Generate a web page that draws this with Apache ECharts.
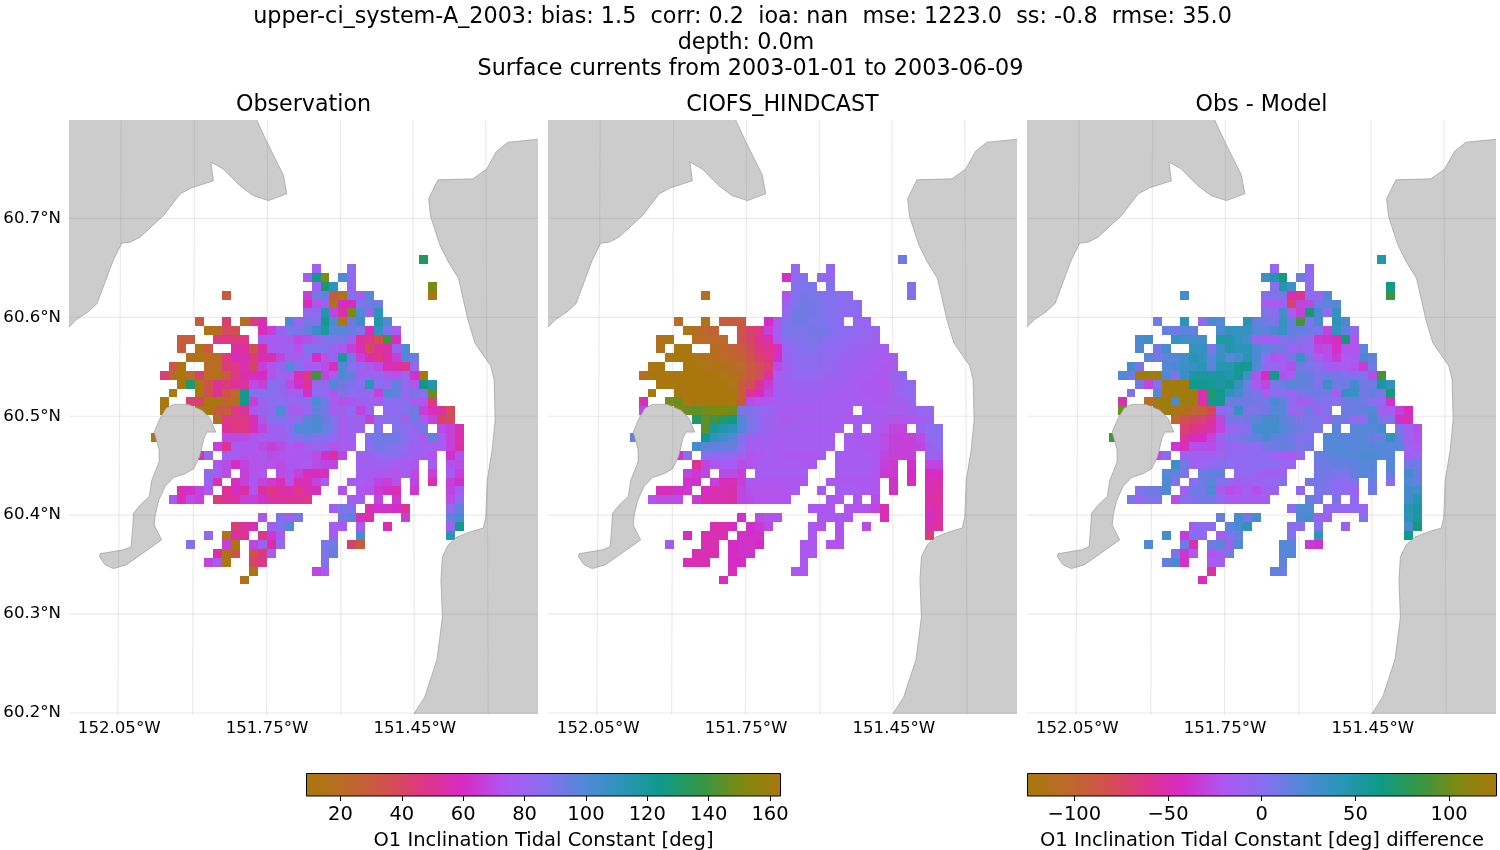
<!DOCTYPE html>
<html>
<head>
<meta charset="utf-8">
<title>O1 Inclination Tidal Constant</title>
<script src="https://cdn.jsdelivr.net/npm/echarts@6/dist/echarts.min.js"></script>
<style>
  html, body { margin: 0; padding: 0; background: #fff; }
  #chart { width: 1500px; height: 850px; }
</style>
</head>
<body>
<div id="chart"></div>
<script>
const _ = null;

// binned field: every row is [first column, values...], rows go north to south
const LON0 = -151.9863, DLON = 0.01815;
const LAT0 = 60.663, DLAT = 0.009;

const obsRows = [
  [30,132],
  [18,76,_,_,_,86],
  [17,76,123,150,_,100,85],
  [18,78,128,112,_,82,_,_,_,_,_,_,_,_,150],
  [8,30,_,_,_,_,_,_,_,_,66,92,95,30,15,88,78,98,_,_,_,_,_,_,10],
  [17,58,72,76,14,60,60,88,95,92],
  [17,82,85,115,68,55,150,100,80,112],
  [5,30,_,_,42,_,20,45,56,_,_,100,82,92,88,122,102,12,92,105,_,115,100],
  [6,14,20,38,36,_,_,58,66,80,90,90,94,108,118,98,98,94,88,58,108,90,76],
  [3,28,30,_,_,45,46,44,46,_,76,76,76,76,68,70,78,88,90,90,80,52,48,34,140,58],
  [3,30,_,12,32,_,_,54,52,34,54,76,76,80,72,90,88,88,80,74,66,58,38,52,54,80,100],
  [4,18,12,20,20,46,60,56,44,56,54,68,78,78,82,60,72,80,118,92,66,56,46,54,66,100,95],
  [2,32,10,_,_,20,20,45,46,56,40,66,72,80,98,88,76,76,70,58,100,86,82,74,70,58,56,48,82],
  [1,44,18,10,22,42,20,12,32,46,54,58,60,72,82,76,56,46,140,68,76,100,96,78,82,82,74,72,82,62,10],
  [3,10,130,10,36,52,45,52,52,70,66,88,84,70,62,50,82,84,100,92,88,86,112,86,84,96,84,74,125,115],
  [2,10,_,_,10,36,50,34,20,123,88,88,86,84,78,78,62,86,82,72,88,86,84,82,66,102,96,82,92,86,146],
  [1,10,_,_,44,44,10,10,24,16,123,66,78,86,86,84,84,85,102,92,76,72,72,80,80,76,86,86,86,74,74,44],
  [1,10,_,_,_,10,10,30,30,46,52,72,80,84,100,80,76,81,96,92,76,78,86,68,80,_,84,84,88,92,66,58,52,38],
  [7,18,46,46,46,56,72,88,88,84,86,98,101,94,88,76,80,80,66,84,86,88,76,92,74,66,42,38],
  [8,50,46,46,58,68,78,80,86,100,100,102,95,90,76,80,80,_,88,_,88,86,82,92,_,70,66,56],
  [0,10,_,_,_,_,_,_,_,70,70,70,72,76,78,78,85,88,93,88,88,84,78,78,_,88,92,92,92,88,82,74,96,76,66,56],
  [7,66,50,76,74,74,70,66,70,76,72,78,81,80,72,76,76,_,86,92,90,88,84,80,78,78,76,66,54],
  [5,54,84,_,78,76,72,72,74,70,72,74,74,73,70,62,54,68,_,78,80,82,86,86,80,78,76,72,_,62,72],
  [7,74,70,60,68,72,72,72,70,74,74,76,70,68,68,_,_,78,78,78,78,76,76,74,_,76,_,72,70],
  [6,84,78,70,_,66,72,74,_,70,72,66,59,58,58,_,_,_,78,76,74,74,72,78,70,_,66,_,76,66],
  [6,80,56,_,58,66,74,68,64,58,72,58,56,68,76,_,_,76,76,74,68,66,72,_,68,_,56,_,66,62],
  [3,56,62,68,74,_,50,60,54,72,54,46,52,56,48,55,57,_,_,72,_,74,72,64,62,56,_,64,_,_,_,68,76],
  [2,74,56,70,66,_,44,52,52,66,66,62,52,52,50,50,48,_,_,_,_,76,78,_,68,_,64,_,_,_,_,_,70,86],
  [20,76,90,88,_,56,62,62,60,50,_,_,_,_,84,96],
  [12,72,_,88,76,90,_,_,_,_,92,96,58,54,_,_,_,66,_,_,_,_,96,102],
  [9,44,52,58,_,78,88,100,_,_,_,_,76,74,_,76,_,_,56,_,_,_,_,_,_,80,122],
  [6,84,_,18,54,50,_,48,64,74,_,_,_,_,_,78,_,_,102,_,_,_,_,_,_,_,_,_,113],
  [4,88,_,_,_,66,10,_,68,80,54,84,_,_,_,_,90,92,_,42,28],
  [7,54,14,34,_,36,46,76,_,_,_,_,_,90,94],
  [6,68,76,12,_,_,42,46,_,_,_,_,_,_,88],
  [11,10,_,_,_,_,_,_,68,74],
  [10,14]
];

const modelRows = [
  [30,92],
  [18,82,_,_,_,82],
  [17,62,84,88,_,84,84],
  [18,88,90,90,_,88,_,_,_,_,_,_,_,_,88],
  [8,16,_,_,_,_,_,_,_,_,72,88,91,90,88,88,86,85,_,_,_,_,_,_,88],
  [17,80,90,92,91,90,88,86,85,85],
  [17,84,92,93,91,90,88,86,85,85],
  [5,22,_,_,12,_,30,30,30,_,_,60,74,88,92,92,90,89,88,86,_,82,80],
  [6,12,18,24,26,_,_,34,42,48,66,76,90,90,90,91,91,88,86,85,83,82,80],
  [3,16,10,_,_,20,22,22,22,_,35,42,50,56,74,86,88,88,90,90,86,85,83,82,82,78],
  [3,16,_,10,10,_,_,18,24,26,30,38,46,50,58,82,86,88,88,86,85,83,82,80,80,78,76],
  [4,12,10,10,12,14,18,22,24,26,34,42,46,62,80,85,86,86,85,83,81,80,78,78,76,75,76],
  [2,12,10,_,_,10,10,12,14,16,18,22,32,38,44,70,78,84,85,85,84,83,80,78,77,77,75,73,75],
  [1,20,10,10,10,10,10,10,10,10,12,14,24,30,38,52,76,80,82,84,84,82,80,80,78,76,76,74,74,80,84],
  [3,10,10,10,10,10,10,10,10,12,28,38,50,64,76,78,80,80,80,80,78,78,76,76,74,74,72,76,82,84],
  [2,10,_,_,10,10,10,10,10,10,10,28,50,60,68,78,78,78,78,78,78,78,76,76,76,74,74,74,78,82,84],
  [1,56,_,_,150,148,12,10,10,10,10,10,30,70,72,74,76,78,78,78,78,76,76,76,76,76,76,74,74,76,78,82],
  [1,70,_,_,_,150,148,145,148,150,150,148,90,88,84,82,78,76,76,76,76,76,76,76,76,_,76,76,76,76,76,78,82,82],
  [7,132,145,140,132,126,100,90,84,80,76,74,76,76,76,76,76,76,74,76,76,76,74,72,72,74,76,80],
  [8,145,120,115,112,100,90,84,80,78,78,78,76,76,76,76,76,_,76,_,76,72,68,68,_,80,86,86],
  [0,95,_,_,_,_,_,_,_,123,110,106,100,88,80,78,78,76,76,76,76,76,76,76,_,76,74,74,74,70,66,66,66,70,84,86],
  [7,104,98,96,96,94,86,76,76,76,76,76,76,76,76,76,76,_,76,76,74,74,70,66,66,66,68,80,84],
  [5,62,86,_,86,84,84,82,78,72,74,76,76,74,74,74,74,76,_,76,76,76,76,74,68,66,66,66,_,80,80],
  [7,50,68,74,76,76,70,72,76,76,76,76,76,74,74,_,_,76,76,76,76,74,66,64,_,62,_,68,68],
  [6,68,64,68,_,70,70,66,_,76,76,76,76,76,76,_,_,_,76,76,76,76,74,64,64,_,60,_,60,60],
  [6,62,62,_,66,58,58,66,74,74,74,74,74,74,74,_,_,74,74,74,74,74,72,_,62,_,58,_,56,56],
  [3,58,58,62,64,_,60,56,56,54,68,72,72,72,72,72,74,_,_,76,_,76,76,76,74,72,_,62,_,_,_,56,54],
  [2,72,70,70,70,_,64,56,56,56,54,68,70,72,72,72,72,_,_,_,_,74,74,_,74,_,70,_,_,_,_,_,54,52],
  [20,74,74,74,_,72,72,72,68,56,_,_,_,_,58,54],
  [12,62,_,70,72,72,_,_,_,_,74,74,74,74,_,_,_,58,_,_,_,_,60,56],
  [9,56,56,60,_,62,64,70,_,_,_,_,74,72,_,72,_,_,70,_,_,_,_,_,_,56,50],
  [6,60,_,56,56,56,_,62,62,62,_,_,_,_,_,74,_,_,72,_,_,_,_,_,_,_,_,_,44],
  [4,76,_,_,_,56,56,_,60,62,62,60,_,_,_,_,74,74,_,72,72],
  [7,56,56,56,_,60,62,62,_,_,_,_,_,74,74],
  [6,58,56,56,_,_,60,60,_,_,_,_,_,_,74],
  [11,58,_,_,_,_,_,_,74,74],
  [10,58]
];

const diffRows = [
  [30,48],
  [18,-8,_,_,_,-5],
  [17,30,48,66,_,10,-2],
  [18,2,48,30,_,-2,_,_,_,_,_,_,_,_,62],
  [8,28,_,_,_,_,_,_,_,_,2,6,6,-50,-58,-2,-8,22,_,_,_,_,_,_,85],
  [17,-18,-18,-14,-72,-30,-28,10,18,20],
  [17,5,2,30,-18,-32,68,25,-2,36],
  [5,10,_,_,42,_,-4,25,22,_,_,45,14,12,5,38,15,88,5,25,_,42,25],
  [6,14,12,18,14,_,_,25,38,38,36,20,16,25,35,14,14,10,6,-30,38,16,-4],
  [3,25,32,_,_,35,30,30,30,_,50,48,38,28,-8,-16,-14,4,8,4,-2,-35,-38,-45,68,-20],
  [3,25,_,8,28,_,_,38,38,5,32,48,42,42,24,18,10,8,-8,-10,-6,-28,-25,-40,-22,-22,20],
  [4,18,8,18,20,30,45,36,20,38,18,26,45,26,0,-22,-14,8,34,8,-18,-24,-35,-18,-16,25,18],
  [2,28,5,_,_,22,24,32,36,42,18,44,44,58,58,22,-4,-6,-16,-24,12,6,0,-14,-16,-16,-22,-34,10],
  [1,22,10,125,120,120,22,6,34,52,52,52,52,48,56,30,-22,-45,62,-22,-16,18,14,6,10,8,6,2,6,-26,88],
  [3,8,-30,4,122,122,122,60,60,58,52,58,36,12,-18,-28,6,12,22,16,14,6,34,12,10,28,10,10,52,40],
  [2,4,_,_,20,-120,120,122,122,-50,72,60,40,30,10,6,-18,0,0,-8,5,8,10,8,-14,36,34,8,16,6,70],
  [1,-50,_,_,-110,120,120,25,120,120,-50,60,60,12,10,10,10,8,26,18,-4,-15,-15,4,4,0,10,12,12,-2,-4,-38],
  [1,100,_,_,_,-118,120,-118,-115,-100,-95,-75,-5,5,35,6,6,8,20,20,-8,-4,10,-8,4,_,12,12,14,22,-12,-18,-32,-44],
  [7,-105,-82,-75,-70,-55,-30,8,6,8,20,26,26,18,12,5,6,6,-8,10,10,-4,-2,25,5,4,-40,-46],
  [8,-70,-62,-56,-50,-30,-8,-4,2,28,30,30,22,14,10,6,6,_,18,_,18,20,20,28,_,6,-14,-24],
  [0,88,_,_,_,_,_,_,_,-55,-45,-42,-30,-12,4,6,12,16,26,16,14,10,4,4,_,22,20,20,20,22,12,12,38,12,-12,-22],
  [7,-36,-46,-24,-24,-26,-14,-6,-6,0,-2,6,12,14,12,6,8,_,20,22,20,18,22,20,20,20,20,-10,-20],
  [5,-26,-4,_,-8,-12,-14,-14,-8,-6,-4,-2,-4,-2,-10,-14,-18,-6,_,12,16,18,20,22,24,24,22,18,_,-14,-6],
  [7,32,10,-12,-8,-4,2,0,-4,-2,0,0,-4,-8,-8,_,_,10,10,14,14,16,20,20,_,20,_,10,10],
  [6,20,18,6,_,12,16,16,_,-4,-2,-8,-14,-14,-14,_,_,_,10,8,6,6,14,20,18,_,16,_,28,14],
  [6,24,2,_,-2,12,20,4,-4,-14,-8,-8,-6,-4,4,_,_,8,8,6,-4,0,6,_,12,_,-2,_,22,14],
  [3,4,10,10,22,_,-10,12,10,24,-16,-26,-22,-14,-24,-14,-12,_,_,-4,_,6,6,0,-2,-10,_,10,_,_,_,30,30],
  [2,6,-8,4,6,_,-26,2,2,10,8,-2,-18,-18,-14,-16,-16,_,_,_,_,14,8,_,8,_,-4,_,_,_,_,_,30,45],
  [20,-2,22,22,_,-4,-4,-6,-4,-10,_,_,_,_,45,52],
  [12,14,_,26,6,26,_,_,_,_,24,26,-10,-12,_,_,_,4,_,_,_,_,42,52],
  [9,-12,0,-2,_,16,26,40,_,_,_,_,2,0,_,5,_,_,-12,_,_,_,_,_,_,28,68],
  [6,28,_,-34,4,-4,_,-18,4,12,_,_,_,_,_,4,_,_,38,_,_,_,_,_,_,_,_,_,62],
  [4,22,_,_,_,10,-48,_,10,18,-12,24,_,_,_,_,22,20,_,-34,-38],
  [7,6,-36,-20,_,-22,-14,10,_,_,_,_,_,20,22],
  [6,14,26,-40,_,_,-18,-14,_,_,_,_,_,_,16],
  [11,-55,_,_,_,_,_,_,14,12],
  [10,-45]
];

// coastlines [lon, lat]
const landNorthWest = [[-152.152,60.7995],[-151.771,60.7995],[-151.751,60.778],[-151.717,60.744],[-151.710,60.725],[-151.747,60.718],[-151.778,60.723],[-151.805,60.733],[-151.839,60.750],[-151.864,60.757],[-151.859,60.738],[-151.903,60.731],[-151.926,60.725],[-151.960,60.703],[-152.008,60.681],[-152.028,60.676],[-152.045,60.675],[-152.062,60.658],[-152.095,60.614],[-152.112,60.606],[-152.136,60.598],[-152.152,60.590]];
const landEast = [[-151.200,60.780],[-151.261,60.777],[-151.284,60.768],[-151.304,60.750],[-151.332,60.740],[-151.403,60.739],[-151.422,60.720],[-151.418,60.702],[-151.399,60.673],[-151.382,60.656],[-151.361,60.639],[-151.342,60.597],[-151.328,60.574],[-151.296,60.551],[-151.289,60.537],[-151.287,60.496],[-151.293,60.466],[-151.303,60.435],[-151.306,60.398],[-151.311,60.387],[-151.338,60.383],[-151.364,60.378],[-151.382,60.370],[-151.394,60.358],[-151.397,60.334],[-151.394,60.297],[-151.405,60.254],[-151.430,60.216],[-151.452,60.199],[-151.200,60.199]];
const landIsland = [[-151.940,60.512],[-151.910,60.512],[-151.882,60.506],[-151.866,60.498],[-151.854,60.484],[-151.872,60.484],[-151.878,60.478],[-151.887,60.459],[-151.899,60.447],[-151.916,60.442],[-151.940,60.438],[-151.957,60.429],[-151.970,60.415],[-151.977,60.400],[-151.979,60.390],[-151.964,60.375],[-152.035,60.350],[-152.062,60.346],[-152.079,60.350],[-152.090,60.358],[-152.089,60.361],[-152.041,60.365],[-152.026,60.368],[-152.023,60.385],[-152.021,60.402],[-152.008,60.410],[-151.989,60.419],[-151.984,60.435],[-151.969,60.454],[-151.969,60.466],[-151.979,60.484],[-151.967,60.498],[-151.955,60.508],[-151.940,60.512]];

// graticule, meridians lean a little because of the projection: [lon at top, lon at bottom]
const meridians = [[-152.046,-152.053],[-151.897,-151.901],[-151.749,-151.751],[-151.601,-151.600],[-151.454,-151.451],[-151.306,-151.301]];
const parallels = [60.2,60.3,60.4,60.5,60.6,60.7];
const lonTicks = [-152.05,-151.75,-151.45];

const valueTicks = [20,40,60,80,100,120,140,160];
const diffTicks = [-100,-50,0,50,100];

const supTitles = [
  ["upper-ci_system-A_2003: bias: 1.5  corr: 0.2  ioa: nan  mse: 1223.0  ss: -0.8  rmse: 35.0", 742.5, 6],
  ["depth: 0.0m", 746, 32],
  ["Surface currents from 2003-01-01 to 2003-06-09", 750.5, 58]
];
const panelTitles = ["Observation", "CIOFS_HINDCAST", "Obs - Model"];

// cyclic colormap, evenly spaced stops
const PHASE = ["#a8780d","#bb6a28","#d0524a","#df3588","#d62cc6","#ae57f0","#8a6df0","#5388d8","#2a95b8","#0e9a88","#339745","#7d8a12","#a8780d"];

const LON_MIN = -152.152, LON_MAX = -151.200;
const LAT_MIN = 60.199, LAT_MAX = 60.7995;
const VAL_MIN = 8.93, VAL_MAX = 163.4;
const DIFF_MIN = -125, DIFF_MAX = 125.3;

const PANEL_LEFT = [69, 548, 1027];
const FONT = "DejaVu Sans";

function rowsToCells(rows) {
  const out = [];
  rows.forEach((row, r) => {
    row.slice(1).forEach((v, i) => {
      if (v === null) return;
      const c = row[0] + i;
      out.push([LON0 + c * DLON, LAT0 - r * DLAT, v]);
    });
  });
  return out;
}

function renderCell(params, api) {
  const a = api.coord([api.value(0), api.value(1)]);
  const b = api.coord([api.value(0) + DLON, api.value(1) - DLAT]);
  const x = Math.round(a[0]), y = Math.round(a[1]);
  return {
    type: "rect",
    shape: { x: x, y: y, width: Math.round(b[0]) - x, height: Math.round(b[1]) - y },
    style: { fill: api.visual("color") }
  };
}

// fill the whole shape, outline only the part that is real coast
function renderLand(poly, coast) {
  return function (params, api) {
    return {
      type: "group",
      children: [
        { type: "polygon", shape: { points: poly.map(p => api.coord(p)) }, style: { fill: "#cccccc" } },
        { type: "polyline", shape: { points: coast.map(p => api.coord(p)) }, style: { fill: null, stroke: "#a4a4a4", lineWidth: 0.8 } }
      ]
    };
  };
}

function renderBar(params, api) {
  const a = api.coord([api.value(0), 0]);
  const b = api.coord([api.value(1), 1]);
  const stops = PHASE.map((color, i) => ({ offset: i / (PHASE.length - 1), color: color }));
  return {
    type: "rect",
    shape: { x: a[0], y: b[1], width: b[0] - a[0], height: a[1] - b[1] },
    style: { fill: new echarts.graphic.LinearGradient(0, 0, 1, 0, stops) }
  };
}

const grids = [], xAxes = [], yAxes = [], series = [], titles = [], visualMaps = [];

supTitles.forEach(t => {
  titles.push({
    text: t[0], left: t[1], top: t[2], textAlign: "center", padding: 0,
    textStyle: { fontFamily: FONT, fontSize: 22.3, fontWeight: "normal", color: "#000" }
  });
});

const fields = [obsRows, modelRows, diffRows];

PANEL_LEFT.forEach((left, i) => {
  grids.push({ left: left, width: 469, top: 120, height: 594, outerBoundsMode: "none" });
  xAxes.push({
    type: "value", gridIndex: i, min: LON_MIN, max: LON_MAX,
    axisLine: { show: false }, splitLine: { show: false },
    axisTick: { show: false },
    axisLabel: {
      customValues: lonTicks, margin: 6,
      fontFamily: FONT, fontSize: 16.6, color: "#000",
      formatter: v => Math.abs(v).toFixed(2) + "°W"
    }
  });
  yAxes.push({
    type: "value", gridIndex: i, min: LAT_MIN, max: LAT_MAX,
    axisLine: { show: false }, splitLine: { show: false },
    axisTick: { show: false },
    axisLabel: {
      show: i === 0, customValues: parallels, margin: 8,
      fontFamily: FONT, fontSize: 16.6, color: "#000",
      formatter: v => v.toFixed(1) + "°N"
    }
  });
  titles.push({
    text: panelTitles[i], left: left + 234.5, top: 94, textAlign: "center", padding: 0,
    textStyle: { fontFamily: FONT, fontSize: 22.2, fontWeight: "normal", color: "#000" }
  });
  series.push({
    type: "custom", xAxisIndex: i, yAxisIndex: i, z: 2, silent: true,
    renderItem: renderCell, encode: { x: 0, y: 1 },
    data: rowsToCells(fields[i])
  });
  visualMaps.push({
    show: false, type: "continuous", seriesIndex: i, dimension: 2,
    min: i === 2 ? DIFF_MIN : VAL_MIN, max: i === 2 ? DIFF_MAX : VAL_MAX,
    inRange: { color: PHASE }
  });
});

// land and graticule come after the cells so the visualMaps keep series 0-2
PANEL_LEFT.forEach((left, i) => {
  [
    [landNorthWest, landNorthWest.slice(1)],
    [landEast, landEast.slice(0, -1)],
    [landIsland, landIsland]
  ].forEach(l => {
    series.push({
      type: "custom", xAxisIndex: i, yAxisIndex: i, z: 3, silent: true,
      renderItem: renderLand(l[0], l[1]), data: [0]
    });
  });
  const lineStyle = { color: "rgba(128,128,128,0.16)", width: 1.2 };
  meridians.forEach(m => {
    series.push({
      type: "line", xAxisIndex: i, yAxisIndex: i, z: 4, silent: true, symbol: "none",
      lineStyle: lineStyle, data: [[m[0], LAT_MAX], [m[1], LAT_MIN]]
    });
  });
  parallels.forEach(p => {
    series.push({
      type: "line", xAxisIndex: i, yAxisIndex: i, z: 4, silent: true, symbol: "none",
      lineStyle: lineStyle, data: [[LON_MIN, p], [LON_MAX, p]]
    });
  });
});

// colorbars
const bars = [
  { left: 306.5, width: 474, min: VAL_MIN, max: VAL_MAX, ticks: valueTicks,
    name: "O1 Inclination Tidal Constant [deg]" },
  { left: 1027.5, width: 469, min: DIFF_MIN, max: DIFF_MAX, ticks: diffTicks,
    name: "O1 Inclination Tidal Constant [deg] difference" }
];
bars.forEach((b, k) => {
  const g = 3 + k;
  grids.push({ left: b.left, width: b.width, top: 773.5, height: 22.5, outerBoundsMode: "none", show: true, borderColor: "#000", borderWidth: 1, backgroundColor: "transparent", z: 5 });
  xAxes.push({
    type: "value", gridIndex: g, min: b.min, max: b.max,
    name: b.name, nameLocation: "middle", nameGap: 35,
    nameTextStyle: { fontFamily: FONT, fontSize: 19.5, color: "#000" },
    axisLine: { show: false }, splitLine: { show: false },
    axisTick: { show: true, customValues: b.ticks, length: 5, lineStyle: { color: "#000", width: 1 } },
    axisLabel: {
      customValues: b.ticks, margin: 9,
      fontFamily: FONT, fontSize: 19.5, color: "#000",
      formatter: v => String(v).replace("-", "\u2212")
    }
  });
  yAxes.push({ type: "value", gridIndex: g, min: 0, max: 1, show: false });
  series.push({
    type: "custom", xAxisIndex: g, yAxisIndex: g, z: 2, silent: true,
    renderItem: renderBar, encode: { x: [0, 1] }, data: [[b.min, b.max]]
  });
});

const chart = echarts.init(document.getElementById("chart"), null, { renderer: "canvas" });
chart.setOption({
  animation: false,
  backgroundColor: "#fff",
  title: titles,
  grid: grids,
  xAxis: xAxes,
  yAxis: yAxes,
  visualMap: visualMaps,
  series: series
});
</script>
</body>
</html>
